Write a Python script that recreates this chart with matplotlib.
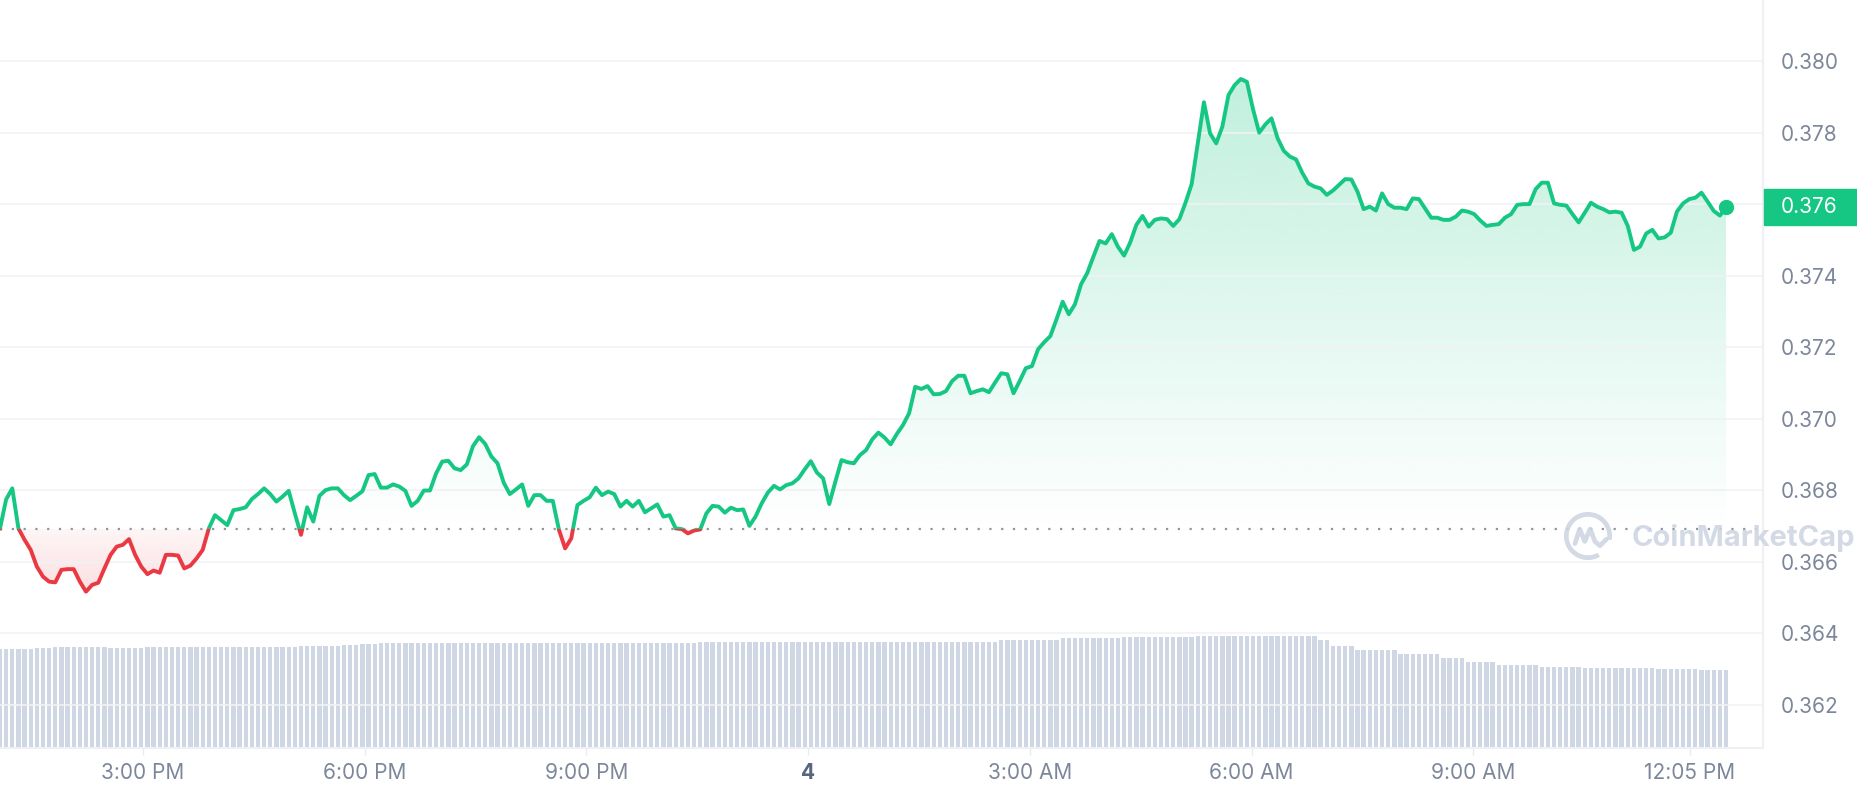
import numpy as np
import matplotlib.pyplot as plt
from matplotlib import transforms
from matplotlib.colors import to_rgb
from matplotlib.patches import Rectangle, Arc
from matplotlib.path import Path

# price every 5 minutes (USD)
price = [
    0.36694, 0.36775, 0.36806, 0.36694, 0.36662, 0.36634, 0.36587, 0.36559, 0.36545, 0.36543,
    0.36578, 0.36580, 0.36580, 0.36545, 0.36517, 0.36536, 0.36542, 0.36582, 0.36620, 0.36643,
    0.36648, 0.36664, 0.36620, 0.36587, 0.36566, 0.36576, 0.36570, 0.36620, 0.36620, 0.36618,
    0.36582, 0.36590, 0.36610, 0.36634, 0.36694, 0.36731, 0.36717, 0.36703, 0.36745, 0.36748,
    0.36753, 0.36776, 0.36790, 0.36806, 0.36790, 0.36769, 0.36783, 0.36799, 0.36736, 0.36676,
    0.36753, 0.36713, 0.36785, 0.36801,
    0.36806, 0.36806, 0.36787, 0.36773, 0.36785, 0.36798, 0.36843, 0.36846, 0.36808, 0.36808,
    0.36817, 0.36811, 0.36799, 0.36757, 0.36771, 0.36800, 0.36800, 0.36848, 0.36881, 0.36883,
    0.36862, 0.36857, 0.36873, 0.36924, 0.36949, 0.36930, 0.36895, 0.36876, 0.36822, 0.36790,
    0.36803, 0.36817, 0.36757, 0.36787, 0.36787, 0.36771, 0.36771, 0.36690, 0.36638, 0.36666,
    0.36759, 0.36771, 0.36781, 0.36808, 0.36787, 0.36797, 0.36790, 0.36755,
    0.36771, 0.36755, 0.36771, 0.36739, 0.36750, 0.36761, 0.36727, 0.36731, 0.36694, 0.36692,
    0.36680, 0.36688, 0.36691, 0.36736, 0.36757, 0.36755, 0.36738, 0.36752, 0.36745, 0.36747,
    0.36701, 0.36727, 0.36764, 0.36794, 0.36813, 0.36803, 0.36815, 0.36820, 0.36834, 0.36859,
    0.36882, 0.36850, 0.36834, 0.36762, 0.36825, 0.36885, 0.36879, 0.36876, 0.36899, 0.36913,
    0.36943, 0.36962, 0.36948, 0.36929, 0.36958, 0.36983, 0.37016, 0.37090, 0.37084, 0.37092,
    0.37069, 0.37070, 0.37078, 0.37106, 0.37121, 0.37121, 0.37072, 0.37078, 0.37083, 0.37075,
    0.37102, 0.37128, 0.37125, 0.37072, 0.37106, 0.37142, 0.37148, 0.37195, 0.37215, 0.37232,
    0.37279, 0.37328, 0.37293, 0.37321, 0.37377, 0.37408, 0.37454, 0.37498, 0.37491, 0.37517,
    0.37482, 0.37457, 0.37494, 0.37543, 0.37568, 0.37538, 0.37557, 0.37561, 0.37559, 0.37540,
    0.37559, 0.37605, 0.37657, 0.37771, 0.37886, 0.37799, 0.37771, 0.37818, 0.37906,
    0.37934, 0.37951, 0.37943, 0.37866, 0.37801, 0.37824, 0.37841, 0.37785, 0.37750, 0.37734,
    0.37726, 0.37689, 0.37659, 0.37650, 0.37645, 0.37627, 0.37639, 0.37655, 0.37671, 0.37670,
    0.37636, 0.37587, 0.37594, 0.37583, 0.37631, 0.37601, 0.37591, 0.37591, 0.37587, 0.37617,
    0.37615, 0.37589, 0.37563, 0.37563, 0.37557, 0.37557, 0.37566, 0.37583, 0.37580, 0.37573,
    0.37555, 0.37540, 0.37543, 0.37545, 0.37563, 0.37573, 0.37599, 0.37601, 0.37601, 0.37643,
    0.37661, 0.37661,
    0.37603, 0.37599, 0.37597, 0.37573, 0.37550, 0.37577, 0.37605, 0.37594, 0.37587, 0.37578,
    0.37580, 0.37577, 0.37540, 0.37473, 0.37482, 0.37519, 0.37529, 0.37505, 0.37508, 0.37521,
    0.37580, 0.37603, 0.37615, 0.37619, 0.37633, 0.37608, 0.37582, 0.37569, 0.37592,
]
base_price = 0.36693          # opening price (dotted line)
t_start, t_end = 1.065, 24.42  # hours after noon, day 3

# volume bars, run-length (level, number of bars)
vol_levels = [99, 100, 101, 100, 101, 102, 103, 104, 105, 106, 108, 110, 111, 112,
              108, 102, 98, 94, 90, 86, 83, 81, 80, 79, 78]
vol_counts = [6, 3, 9, 6, 25, 7, 3, 3, 52, 49, 10, 10, 12, 20,
              2, 4, 7, 7, 4, 5, 7, 7, 12, 7, 5]

x_ticks = [3, 6, 9, 12, 15, 18, 21, 23.93]
x_labels = ['3:00 PM', '6:00 PM', '9:00 PM', '4', '3:00 AM', '6:00 AM', '9:00 AM', '12:05 PM']
y_ticks = [0.362, 0.364, 0.366, 0.368, 0.370, 0.372, 0.374, 0.376, 0.378, 0.380]

GREEN = '#16c784'
RED = '#ea3943'
LABEL = '#7d879a'

plt.rcParams['font.family'] = ['Inter', 'DejaVu Sans']

price = np.array(price)
t = np.linspace(t_start, t_end, len(price))
volume = np.repeat(vol_levels, vol_counts)

W, H = 1858, 800
fig = plt.figure(figsize=(W / 100, H / 100), dpi=100)
rect = [0, 52 / H, 1763 / W, 748 / H]

# volume underneath
ax_vol = fig.add_axes(rect)
ax_vol.bar(t, volume, width=(t[1] - t[0]) * 0.7, color='#cfd6e4', linewidth=0)
ax_vol.set_ylim(0, 748)
ax_vol.axis('off')

ax = fig.add_axes(rect, sharex=ax_vol)
ax.patch.set_visible(False)

# gradient areas between price and opening line
area = ax.fill_between(t, price, base_price, color='none', linewidth=0)
clip = Path.make_compound_path(*area.get_paths())


def gradient(color, a_lo, a_hi, y0, y1):
    rgba = np.zeros((256, 1, 4))
    rgba[..., :3] = to_rgb(color)
    rgba[:, 0, 3] = np.linspace(a_lo, a_hi, 256)
    im = ax.imshow(rgba, extent=(t[0], t[-1], y0, y1), origin='lower',
                   aspect='auto', interpolation='bilinear', zorder=1)
    im.set_clip_path(clip, transform=ax.transData)


gradient(GREEN, 0.0, 0.27, base_price, price.max())
gradient(RED, 0.16, 0.05, price.min(), base_price)

# line: green above the opening price, red below
above = Rectangle((t[0] - 5, base_price), 40, 1, transform=ax.transData)
below = Rectangle((t[0] - 5, base_price - 1), 40, 1, transform=ax.transData)
ln_g, = ax.plot(t, price, color=GREEN, lw=2.8, solid_joinstyle='round', zorder=3)
ln_g.set_clip_path(above)
ln_r, = ax.plot(t, price, color=RED, lw=2.8, solid_joinstyle='round', zorder=3)
ln_r.set_clip_path(below)
ax.plot(t[-1], price[-1], 'o', ms=10, color=GREEN, zorder=4)

ax.axhline(base_price, color='#8f96a3', lw=1.6, dashes=(1, 4.3), zorder=2)

ax.set_xlim(t_start, 24.92)
ax.set_ylim(0.360797, 0.381720)

ax.set_yticks(y_ticks)
ax.set_yticklabels([f'{v:.3f}' for v in y_ticks])
ax.yaxis.tick_right()
ax.grid(axis='y', color='#f1f2f4', lw=1.2, zorder=0)
ax.tick_params(axis='y', length=0, pad=13, labelsize=15, labelcolor=LABEL)

ax.set_xticks(x_ticks)
ax.set_xticklabels(x_labels)
ax.tick_params(axis='x', length=5, width=1, color='#e8ebef', pad=6,
               labelsize=15, labelcolor=LABEL)
lab4 = ax.get_xticklabels()[3]
lab4.set_fontweight('bold')
lab4.set_color('#58667e')

for s in ['left', 'top']:
    ax.spines[s].set_visible(False)
for s in ['right', 'bottom']:
    ax.spines[s].set_color('#eef0f3')
    ax.spines[s].set_linewidth(1.5)

# current price tag
tag_tr = transforms.blended_transform_factory(fig.transFigure, ax.transData)
tag_h = (0.381720 - 0.360797) / 748 * 36
fig.patches.append(Rectangle((1764 / W, price[-1] - tag_h / 2), 94 / W, tag_h,
                             transform=tag_tr, color=GREEN, zorder=5))
fig.text(1781 / W, price[-1], f'{price[-1]:.3f}', transform=tag_tr, color='white',
         fontsize=15, va='center', ha='left', zorder=6)

# watermark
wm = '#cfd6e3'
fig.text(1632 / W, 1 - 538 / H, 'CoinMarketCap', fontsize=21, fontweight='bold',
         color=wm, va='center', ha='left', alpha=0.9, zorder=4)
lax = fig.add_axes([(1588 - 26) / W, 1 - (536 + 26) / H, 52 / W, 52 / H])
lax.set_xlim(-1.2, 1.2)
lax.set_ylim(-1.2, 1.2)
lax.axis('off')
lax.add_patch(Arc((0, 0), 2, 2, theta1=-10, theta2=300, color=wm, lw=3.4, alpha=0.9))
lax.plot([-0.6, -0.38, -0.15, 0.1, 0.32, 0.55, 0.85],
         [-0.35, 0.32, -0.25, 0.32, -0.25, -0.45, -0.15],
         color=wm, lw=3.4, alpha=0.9, solid_joinstyle='round', solid_capstyle='round')

fig.savefig('out.png', dpi=100)
